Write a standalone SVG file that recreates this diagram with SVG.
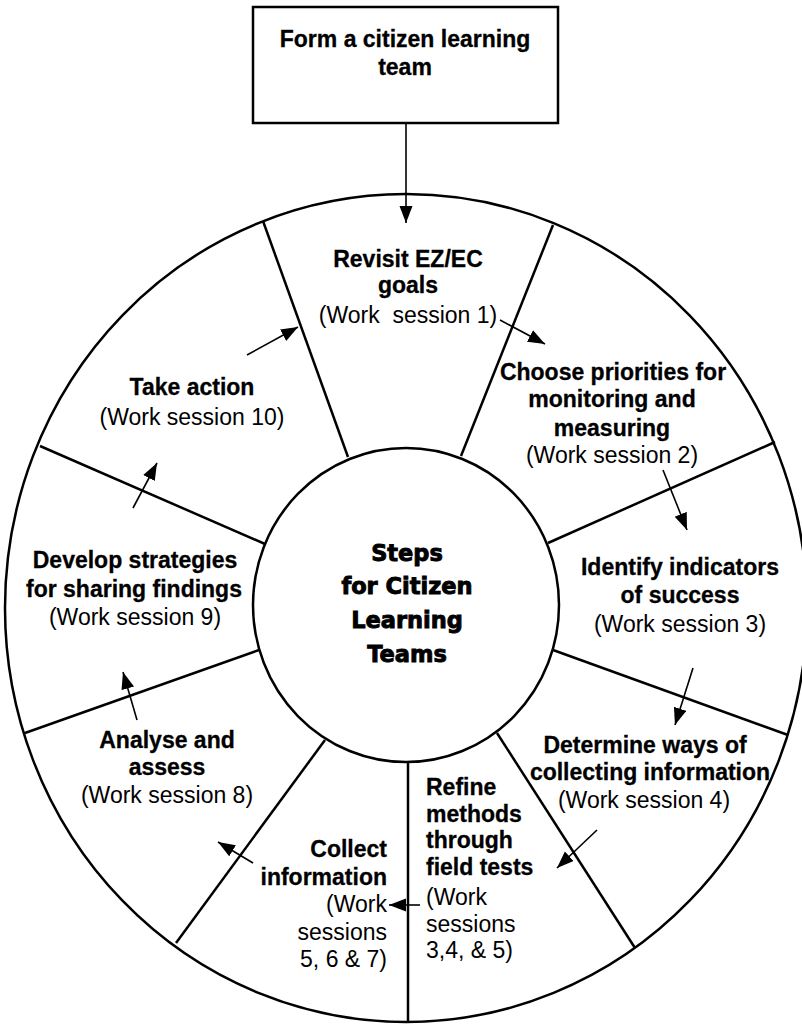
<svg xmlns="http://www.w3.org/2000/svg" width="802" height="1024" viewBox="0 0 802 1024">
<style>
  .shape { fill: none; stroke: #000; stroke-width: 2.5; }
  .spoke { stroke: #000; stroke-width: 2.5; fill: none; }
  .arrow { stroke: #000; stroke-width: 1.6; fill: none; marker-end: url(#head); }
  .b { font-family: "Liberation Sans", Arial, sans-serif; font-weight: bold; font-size: 23px; fill: #000; text-anchor: middle; stroke: #000; stroke-width: 0.3; }
  .r { font-family: "Liberation Sans", Arial, sans-serif; font-size: 23px; fill: #000; text-anchor: middle; }
  .c { font-family: "DejaVu Sans", sans-serif; font-weight: bold; font-size: 22.5px; fill: #000; text-anchor: middle; stroke: #000; stroke-width: 0.9; }
  .left { text-anchor: start; }
  .right { text-anchor: end; }
</style>
<defs>
  <marker id="head" markerUnits="userSpaceOnUse" markerWidth="20" markerHeight="16" refX="17" refY="6.5" orient="auto">
    <path d="M0,0 L17,6.5 L0,13 Z" fill="#000"/>
  </marker>
</defs>
<rect width="802" height="1024" fill="#fff"/>

<g id="wheel">
  <ellipse class="shape" cx="406" cy="608" rx="401" ry="414"/>
</g>

<g id="spokes">
  <line class="spoke" x1="263" y1="221" x2="348" y2="457"/>
  <line class="spoke" x1="553" y1="225" x2="461" y2="456"/>
  <line class="spoke" x1="775" y1="442" x2="548" y2="543"/>
  <line class="spoke" x1="553" y1="650" x2="788" y2="735"/>
  <line class="spoke" x1="497" y1="733" x2="635" y2="948"/>
  <line class="spoke" x1="408" y1="762" x2="408" y2="1022"/>
  <line class="spoke" x1="325" y1="740" x2="176" y2="943"/>
  <line class="spoke" x1="259" y1="650" x2="25" y2="733"/>
  <line class="spoke" x1="40" y1="446" x2="265" y2="544"/>
</g>

<g id="center">
  <ellipse class="shape" cx="406" cy="605" rx="153" ry="157" fill="#fff"/>
  <text class="c" x="407" y="561">Steps</text>
  <text class="c" x="407" y="594">for Citizen</text>
  <text class="c" x="407" y="628">Learning</text>
  <text class="c" x="407" y="662">Teams</text>
</g>

<g id="form-team">
  <rect class="shape" x="253" y="7" width="305" height="116"/>
  <text class="b" x="405" y="47">Form a citizen learning</text>
  <text class="b" x="405" y="75">team</text>
</g>

<g id="revisit">
  <text class="b" x="408" y="267">Revisit EZ/EC</text>
  <text class="b" x="408" y="293">goals</text>
  <text class="r" x="408" y="323" xml:space="preserve">(Work  session 1)</text>
</g>

<g id="choose">
  <text class="b" x="613" y="380">Choose priorities for</text>
  <text class="b" x="612" y="407">monitoring and</text>
  <text class="b" x="612" y="436">measuring</text>
  <text class="r" x="612" y="463">(Work session 2)</text>
</g>

<g id="identify">
  <text class="b" x="680" y="575">Identify indicators</text>
  <text class="b" x="680" y="603">of success</text>
  <text class="r" x="680" y="632">(Work session 3)</text>
</g>

<g id="determine">
  <text class="b" x="645" y="753">Determine ways of</text>
  <text class="b" x="650" y="780">collecting information</text>
  <text class="r" x="644" y="808">(Work session 4)</text>
</g>

<g id="refine">
  <text class="b left" x="426" y="795">Refine</text>
  <text class="b left" x="426" y="822">methods</text>
  <text class="b left" x="426" y="848">through</text>
  <text class="b left" x="426" y="875">field tests</text>
  <text class="r left" x="426" y="905">(Work</text>
  <text class="r left" x="426" y="932">sessions</text>
  <text class="r left" x="426" y="958">3,4, &amp; 5)</text>
</g>

<g id="collect">
  <text class="b right" x="387" y="857">Collect</text>
  <text class="b right" x="387" y="885">information</text>
  <text class="r right" x="387" y="912">(Work</text>
  <text class="r right" x="387" y="940">sessions</text>
  <text class="r right" x="387" y="967">5, 6 &amp; 7)</text>
</g>

<g id="analyse">
  <text class="b" x="167" y="748">Analyse and</text>
  <text class="b" x="167" y="775">assess</text>
  <text class="r" x="167" y="803">(Work session 8)</text>
</g>

<g id="develop">
  <text class="b" x="135" y="568">Develop strategies</text>
  <text class="b" x="134" y="597">for sharing findings</text>
  <text class="r" x="135" y="625">(Work session 9)</text>
</g>

<g id="take-action">
  <text class="b" x="192" y="395">Take action</text>
  <text class="r" x="192" y="425">(Work session 10)</text>
</g>

<g id="connectors">
  <line class="arrow" x1="406" y1="123" x2="406" y2="223"/>
  <line class="arrow" x1="500" y1="320" x2="545" y2="344"/>
  <line class="arrow" x1="663" y1="470" x2="687" y2="530"/>
  <line class="arrow" x1="693" y1="668" x2="675" y2="725"/>
  <line class="arrow" x1="597" y1="830" x2="557" y2="868"/>
  <line class="arrow" x1="420" y1="905" x2="389" y2="905"/>
  <line class="arrow" x1="253" y1="863" x2="218" y2="842"/>
  <line class="arrow" x1="137" y1="720" x2="123" y2="672"/>
  <line class="arrow" x1="133" y1="508" x2="157" y2="463"/>
  <line class="arrow" x1="247" y1="355" x2="298" y2="327"/>
</g>
</svg>
